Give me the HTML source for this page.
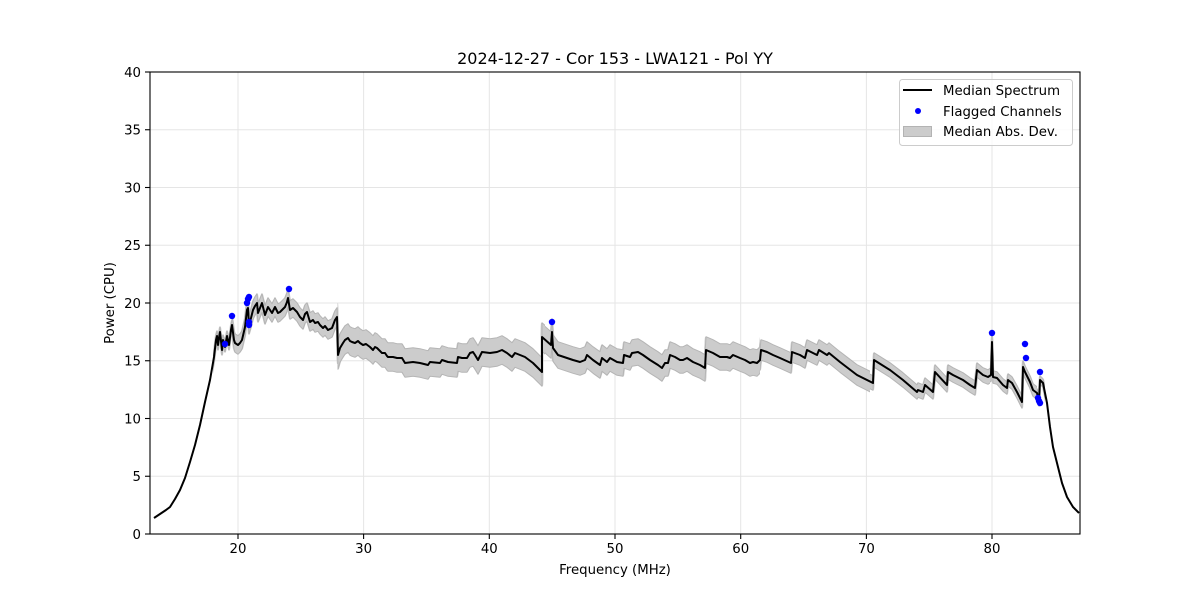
<!DOCTYPE html>
<html><head><meta charset="utf-8"><style>
html,body{margin:0;padding:0;background:#fff;}
svg{display:block;}
text{font-family:"DejaVu Sans","Liberation Sans",sans-serif;fill:#000;}
</style></head><body>
<svg width="1200" height="600" viewBox="0 0 1200 600" xmlns="http://www.w3.org/2000/svg">
<defs>
<path id="m" fill="none" stroke-linejoin="round" stroke-linecap="butt" d="M154,518 L160,514 L166,510 L170,507 L175,499 L180,490 L185,478 L190,462 L195,445 L200,425 L205,402 L210,380 L214,357 L216,340 L217,336 L218,345 L219,338 L220,332 L222,350 L223,340 L225,347 L227,336 L229,345 L231,330 L232,325 L234,340 L235,343 L238,345 L240,343 L242,340 L245,327 L247,310 L248,308 L249,325 L251,318 L253,310 L255,306 L257,303 L258,313 L260,308 L262,303 L265,315 L268,307 L272,313 L275,307 L278,313 L280,312 L285,307 L287,302 L288,298 L290,310 L293,308 L297,312 L300,317 L303,320 L305,314 L307,312 L310,322 L313,320 L315,323 L318,322 L320,325 L323,328 L325,326 L328,330 L332,328 L335,320 L337,317 L338,355 L340,348 L343,343 L345,340 L348,338 L350,341 L352,342 L355,343 L358,341 L360,343 L363,345 L366,344 L370,347 L373,350 L375,347 L377,348 L380,351 L382,353 L385,353 L387,356 L388,357 L393,357 L397,358 L402,358 L405,363 L413,362 L420,363 L428,365 L430,362 L440,363 L442,360 L448,362 L457,363 L458,357 L462,358 L467,358 L470,353 L473,352 L475,355 L478,360 L482,352 L490,353 L497,352 L502,350 L507,353 L512,357 L515,353 L520,355 L525,357 L533,363 L542,372 L542,337 L551,345 L552,332 L553,348 L558,355 L567,358 L573,360 L580,362 L585,360 L587,355 L593,360 L600,365 L602,358 L607,362 L610,358 L617,362 L623,363 L624,355 L630,357 L632,353 L638,352 L643,355 L650,360 L658,365 L662,368 L665,363 L668,363 L670,355 L675,357 L680,360 L683,360 L687,358 L693,362 L700,365 L705,368 L706,350 L713,353 L720,357 L727,357 L730,358 L733,355 L740,358 L745,360 L750,363 L753,362 L757,363 L760,360 L761,350 L767,352 L773,355 L780,358 L791,363 L792,352 L800,355 L805,358 L807,350 L817,355 L819,350 L827,355 L829,353 L840,362 L857,375 L873,383 L874,360 L890,370 L903,380 L917,392 L918,390 L923,392 L925,385 L933,392 L935,372 L947,385 L948,372 L953,375 L963,380 L970,385 L975,388 L977,370 L983,375 L988,377 L991,375 L992,342 L993,377 L997,378 L1003,385 L1007,388 L1008,380 L1012,383 L1017,392 L1022,402 L1023,367 L1025,372 L1030,382 L1033,390 L1037,393 L1039,402 L1040,380 L1043,383 L1047,403 L1050,427 L1053,447 L1057,463 L1062,483 L1067,497 L1073,507 L1079,513"/>
<g id="b4"><use href="#m" y="-4"/><use href="#m" y="-2"/><use href="#m" y="0"/><use href="#m" y="2"/><use href="#m" y="4"/></g>
<g id="b8"><use href="#m" y="-8"/><use href="#m" y="-6"/><use href="#m" y="-4"/><use href="#m" y="-2"/><use href="#m" y="0"/><use href="#m" y="2"/><use href="#m" y="4"/><use href="#m" y="6"/><use href="#m" y="8"/></g>
<g id="b13"><use href="#m" y="-13"/><use href="#m" y="-11"/><use href="#m" y="-9"/><use href="#m" y="-7"/><use href="#m" y="-5"/><use href="#m" y="-3"/><use href="#m" y="-1"/><use href="#m" y="1"/><use href="#m" y="3"/><use href="#m" y="5"/><use href="#m" y="7"/><use href="#m" y="9"/><use href="#m" y="11"/><use href="#m" y="13"/></g>
<g id="b12"><use href="#m" y="-12"/><use href="#m" y="-10"/><use href="#m" y="-8"/><use href="#m" y="-6"/><use href="#m" y="-4"/><use href="#m" y="-2"/><use href="#m" y="0"/><use href="#m" y="2"/><use href="#m" y="4"/><use href="#m" y="6"/><use href="#m" y="8"/><use href="#m" y="10"/><use href="#m" y="12"/></g>
<g id="b9"><use href="#m" y="-9"/><use href="#m" y="-7"/><use href="#m" y="-5"/><use href="#m" y="-3"/><use href="#m" y="-1"/><use href="#m" y="1"/><use href="#m" y="3"/><use href="#m" y="5"/><use href="#m" y="7"/><use href="#m" y="9"/></g>
<g id="b6"><use href="#m" y="-6"/><use href="#m" y="-4"/><use href="#m" y="-2"/><use href="#m" y="0"/><use href="#m" y="2"/><use href="#m" y="4"/><use href="#m" y="6"/></g>
<g id="b5"><use href="#m" y="-5"/><use href="#m" y="-3"/><use href="#m" y="-1"/><use href="#m" y="1"/><use href="#m" y="3"/><use href="#m" y="5"/></g>
<g id="b3"><use href="#m" y="-3"/><use href="#m" y="-1"/><use href="#m" y="1"/><use href="#m" y="3"/></g>
<clipPath id="ax"><rect x="150" y="72" width="930" height="462"/></clipPath>
<clipPath id="c1"><rect x="213" y="0" width="19" height="600"/></clipPath>
<clipPath id="c2"><rect x="232" y="0" width="105.5" height="600"/></clipPath>
<clipPath id="c3"><rect x="337.5" y="0" width="207.5" height="600"/></clipPath>
<clipPath id="c4"><rect x="545" y="0" width="215" height="600"/></clipPath>
<clipPath id="c5"><rect x="760" y="0" width="110" height="600"/></clipPath>
<clipPath id="c6"><rect x="870" y="0" width="120" height="600"/></clipPath>
<clipPath id="c7"><rect x="990" y="0" width="47" height="600"/></clipPath>
<clipPath id="c8"><rect x="1037" y="0" width="8" height="600"/></clipPath>
</defs>

<!-- grid -->
<g stroke="#e5e5e5" stroke-width="1">
<line x1="238" y1="72" x2="238" y2="534"/>
<line x1="363.6" y1="72" x2="363.6" y2="534"/>
<line x1="489.3" y1="72" x2="489.3" y2="534"/>
<line x1="615" y1="72" x2="615" y2="534"/>
<line x1="740.7" y1="72" x2="740.7" y2="534"/>
<line x1="866.4" y1="72" x2="866.4" y2="534"/>
<line x1="992" y1="72" x2="992" y2="534"/>
<line x1="150" y1="476.25" x2="1080" y2="476.25"/>
<line x1="150" y1="418.5" x2="1080" y2="418.5"/>
<line x1="150" y1="360.75" x2="1080" y2="360.75"/>
<line x1="150" y1="303" x2="1080" y2="303"/>
<line x1="150" y1="245.25" x2="1080" y2="245.25"/>
<line x1="150" y1="187.5" x2="1080" y2="187.5"/>
<line x1="150" y1="129.75" x2="1080" y2="129.75"/>
</g>

<g clip-path="url(#ax)">
<!-- band fill -->
<g stroke="#cccccc" stroke-width="2.4">
<use href="#b4" clip-path="url(#c1)"/>
<use href="#b8" clip-path="url(#c2)"/>
<use href="#b13" clip-path="url(#c3)"/>
<use href="#b12" clip-path="url(#c4)"/>
<use href="#b9" clip-path="url(#c5)"/>
<use href="#b6" clip-path="url(#c6)"/>
<use href="#b5" clip-path="url(#c7)"/>
<use href="#b3" clip-path="url(#c8)"/>
</g>
<!-- band edges -->
<g stroke="#b5b5b5" stroke-width="1">
<g clip-path="url(#c1)"><use href="#m" y="-5.3"/><use href="#m" y="5.3"/></g>
<g clip-path="url(#c2)"><use href="#m" y="-9.3"/><use href="#m" y="9.3"/></g>
<g clip-path="url(#c3)"><use href="#m" y="-14.3"/><use href="#m" y="14.3"/></g>
<g clip-path="url(#c4)"><use href="#m" y="-13.3"/><use href="#m" y="13.3"/></g>
<g clip-path="url(#c5)"><use href="#m" y="-10.3"/><use href="#m" y="10.3"/></g>
<g clip-path="url(#c6)"><use href="#m" y="-7.3"/><use href="#m" y="7.3"/></g>
<g clip-path="url(#c7)"><use href="#m" y="-6.3"/><use href="#m" y="6.3"/></g>
<g clip-path="url(#c8)"><use href="#m" y="-4.3"/><use href="#m" y="4.3"/></g>
</g>
<use href="#m" stroke="#000" stroke-width="2"/>
<g fill="#0000ff">
<circle cx="225" cy="344" r="3.2"/>
<circle cx="232" cy="316" r="3.2"/>
<circle cx="247" cy="303" r="3.2"/>
<circle cx="248" cy="299" r="3.2"/>
<circle cx="249" cy="297" r="3.2"/>
<circle cx="249" cy="322" r="3.2"/>
<circle cx="249" cy="325" r="3.2"/>
<circle cx="289" cy="289" r="3.2"/>
<circle cx="552" cy="322" r="3.2"/>
<circle cx="992" cy="333" r="3.2"/>
<circle cx="1025" cy="344" r="3.2"/>
<circle cx="1026" cy="358" r="3.2"/>
<circle cx="1040" cy="372" r="3.2"/>
<circle cx="1038" cy="398" r="3.2"/>
<circle cx="1039" cy="401" r="3.2"/>
<circle cx="1040" cy="403" r="3.2"/>
</g>
</g>

<!-- axes frame -->
<rect x="150" y="72" width="930" height="462" fill="none" stroke="#000" stroke-width="1.1"/>

<!-- ticks -->
<g stroke="#000" stroke-width="1.1">
<line x1="238" y1="534" x2="238" y2="539"/>
<line x1="363.6" y1="534" x2="363.6" y2="539"/>
<line x1="489.3" y1="534" x2="489.3" y2="539"/>
<line x1="615" y1="534" x2="615" y2="539"/>
<line x1="740.7" y1="534" x2="740.7" y2="539"/>
<line x1="866.4" y1="534" x2="866.4" y2="539"/>
<line x1="992" y1="534" x2="992" y2="539"/>
<line x1="145" y1="534" x2="150" y2="534"/>
<line x1="145" y1="476.25" x2="150" y2="476.25"/>
<line x1="145" y1="418.5" x2="150" y2="418.5"/>
<line x1="145" y1="360.75" x2="150" y2="360.75"/>
<line x1="145" y1="303" x2="150" y2="303"/>
<line x1="145" y1="245.25" x2="150" y2="245.25"/>
<line x1="145" y1="187.5" x2="150" y2="187.5"/>
<line x1="145" y1="129.75" x2="150" y2="129.75"/>
<line x1="145" y1="72" x2="150" y2="72"/>
</g>

<g font-size="13.3" text-anchor="middle">
<text x="238" y="553">20</text>
<text x="363.6" y="553">30</text>
<text x="489.3" y="553">40</text>
<text x="615" y="553">50</text>
<text x="740.7" y="553">60</text>
<text x="866.4" y="553">70</text>
<text x="992" y="553">80</text>
</g>
<g font-size="13.3" text-anchor="end">
<text x="141" y="539">0</text>
<text x="141" y="481">5</text>
<text x="141" y="423.5">10</text>
<text x="141" y="365.5">15</text>
<text x="141" y="308">20</text>
<text x="141" y="250">25</text>
<text x="141" y="192.5">30</text>
<text x="141" y="134.5">35</text>
<text x="141" y="77">40</text>
</g>

<text x="615" y="574" font-size="13.3" text-anchor="middle">Frequency (MHz)</text>
<text transform="translate(114,303) rotate(-90)" font-size="13.3" text-anchor="middle">Power (CPU)</text>
<text x="615" y="64" font-size="16" text-anchor="middle">2024-12-27 - Cor 153 - LWA121 - Pol YY</text>

<!-- legend -->
<rect x="899.5" y="79.5" width="173" height="66" rx="3" fill="#fff" fill-opacity="0.8" stroke="#cccccc" stroke-width="1"/>
<line x1="903" y1="90" x2="932" y2="90" stroke="#000" stroke-width="2"/>
<circle cx="918" cy="111" r="3" fill="#0000ff"/>
<rect x="903.5" y="126.5" width="28" height="10" fill="#cccccc" stroke="#b3b3b3" stroke-width="1"/>
<g font-size="13.3">
<text x="943" y="95">Median Spectrum</text>
<text x="943" y="116">Flagged Channels</text>
<text x="943" y="136">Median Abs. Dev.</text>
</g>
</svg>
</body></html>
